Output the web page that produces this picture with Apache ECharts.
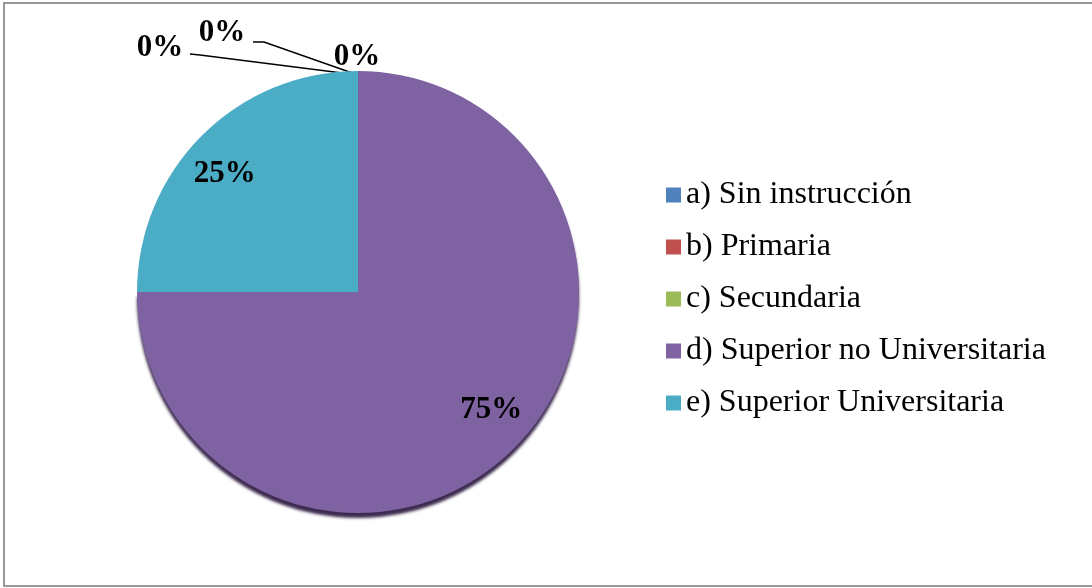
<!DOCTYPE html>
<html>
<head>
<meta charset="utf-8">
<script src="https://cdn.jsdelivr.net/npm/echarts@6/dist/echarts.min.js"></script>
<style>
  html, body { margin: 0; padding: 0; background: #fff; }
  #chart { width: 1092px; height: 588px; }
</style>
</head>
<body>
<div id="chart"></div>
<script>
// datos
const categories = ['a) Sin instrucción', 'b) Primaria', 'c) Secundaria', 'd) Superior no Universitaria', 'e) Superior Universitaria']
const values = [0, 0, 0, 75, 25]
const colors = ['#4F81BD', '#C0504D', '#9BBB59', '#7E62A1', '#4BACC6']

let chart = echarts.init(document.getElementById('chart'))

let cx = 358, cy = 292

let option = {
  animation: false,
  graphic: [
    {
      type: 'rect',
      shape: { x: 4, y: 3, width: 1100, height: 583 },
      style: { fill: 'none', stroke: '#999', lineWidth: 2 },
      silent: true
    }
  ],
  legend: {
    orient: 'vertical',
    left: 661,
    top: 174,
    itemWidth: 15,
    itemHeight: 15,
    itemGap: 20,
    icon: 'rect',
    textStyle: {
      fontFamily: 'Liberation Serif',
      fontSize: 32,
      color: '#000',
      lineHeight: 32
    },
    data: categories
  },
  series: [
    {
      type: 'pie',
      center: [cx, cy],
      radius: 221,
      startAngle: 90,
      clockwise: true,
      minAngle: 0,
      stillShowZeroSum: true,
      avoidLabelOverlap: false,
      label: {
        show: true,
        formatter: '{d}%',
        fontFamily: 'Liberation Serif',
        fontWeight: 'bold',
        fontSize: 31,
        color: '#000'
      },
      labelLine: {
        show: true,
        length: 10,
        length2: 10,
        lineStyle: { color: '#000', width: 1.5 }
      },
      labelLayout: function (p) {
        let i = p.dataIndex
        let r = p.labelRect
        if (values[i] > 0) {
          // etiquetas internas, mas cerca del borde
          let mx = r.x + r.width / 2, my = r.y + r.height / 2
          return { x: cx + (mx - cx) * 1.66, y: cy + (my - cy) * 1.47, align: 'center', verticalAlign: 'middle' }
        }
        let top = [cx, cy - 217]
        if (i === 0) {
          return { x: 160, y: 48, align: 'center', verticalAlign: 'middle',
            labelLinePoints: [top, [200, 55], [190, 54]] }
        }
        if (i === 1) {
          return { x: 222, y: 33, align: 'center', verticalAlign: 'middle',
            labelLinePoints: [top, [264, 42], [253, 42]] }
        }
        return { x: 357, y: 57, align: 'center', verticalAlign: 'middle',
          labelLinePoints: [top, top, top] }
      },
      data: categories.map((c, i) => ({
        name: c,
        value: values[i],
        itemStyle: i === 3
          ? { color: colors[i], shadowColor: 'rgba(40, 20, 60, 0.9)', shadowOffsetY: 5, shadowBlur: 3 }
          : { color: colors[i] },
        label: values[i] > 0 ? { position: 'inside' } : { position: 'outside' },
        labelLine: { show: values[i] > 0 ? false : i < 2 }
      }))
    }
  ]
}

chart.setOption(option)
</script>
</body>
</html>
